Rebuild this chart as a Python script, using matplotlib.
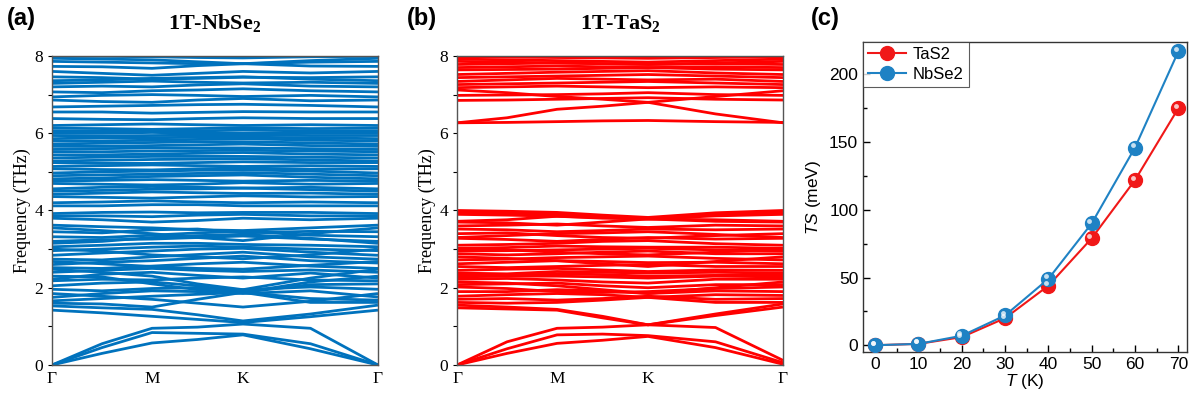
import matplotlib
matplotlib.use("Agg")
import matplotlib.pyplot as plt
from matplotlib.ticker import MultipleLocator
from matplotlib.transforms import offset_copy

plt.rcParams["mathtext.fontset"] = "custom"
plt.rcParams["mathtext.rm"] = "Liberation Sans"
plt.rcParams["mathtext.it"] = "Liberation Sans:italic"
plt.rcParams["mathtext.bf"] = "Liberation Serif:bold"

# high-symmetry path: G, G-M, M, M-K, K, K-G, G
kpath = [0, 50, 100, 145.5, 191, 258.5, 326]
ktick_pos = [0, 100, 191, 326]
ktick_lab = ["\u0393", "M", "K", "\u0393"]

# 1T-NbSe2 phonon bands (THz) at the k-points above
nbse2_bands = [
    [0.00, 0.55, 0.95, 0.98, 1.06, 0.95, 0.00],
    [0.00, 0.45, 0.84, 0.82, 0.80, 0.55, 0.00],
    [0.00, 0.30, 0.57, 0.66, 0.78, 0.42, 0.00],
    [1.42, 1.35, 1.26, 1.18, 1.10, 1.25, 1.42],
    [1.53, 1.48, 1.44, 1.30, 1.14, 1.32, 1.55],
    [1.60, 1.58, 1.50, 1.70, 1.88, 1.62, 1.62],
    [1.66, 1.72, 1.78, 1.83, 1.88, 1.72, 1.68],
    [1.75, 1.85, 1.92, 1.90, 1.85, 1.92, 1.76],
    [1.85, 1.78, 1.70, 1.60, 1.50, 1.65, 1.85],
    [1.96, 1.92, 1.98, 2.00, 1.95, 2.02, 1.96],
    [2.05, 2.12, 2.15, 2.05, 1.88, 2.08, 2.10],
    [2.18, 2.22, 2.20, 2.25, 2.28, 2.20, 2.18],
    [2.22, 2.35, 2.40, 2.32, 2.25, 2.38, 2.25],
    [2.30, 2.28, 2.10, 1.95, 1.88, 2.15, 2.30],
    [2.40, 2.45, 2.50, 2.45, 2.42, 2.46, 2.40],
    [2.48, 2.40, 2.30, 2.10, 1.95, 2.25, 2.48],
    [2.52, 2.50, 2.56, 2.62, 2.66, 2.56, 2.50],
    [2.60, 2.66, 2.70, 2.76, 2.82, 2.70, 2.64],
    [2.68, 2.62, 2.55, 2.50, 2.48, 2.58, 2.68],
    [2.74, 2.72, 2.80, 2.86, 2.92, 2.80, 2.74],
    [2.84, 2.90, 2.95, 3.00, 3.02, 2.92, 2.84],
    [3.00, 2.95, 2.85, 2.80, 2.75, 2.85, 3.00],
    [2.96, 3.00, 3.05, 3.08, 3.05, 3.00, 2.96],
    [3.06, 3.10, 3.15, 3.15, 3.12, 3.10, 3.06],
    [3.15, 3.20, 3.30, 3.35, 3.38, 3.28, 3.15],
    [3.20, 3.24, 3.26, 3.30, 3.34, 3.26, 3.20],
    [3.32, 3.30, 3.36, 3.42, 3.46, 3.36, 3.32],
    [3.45, 3.42, 3.50, 3.52, 3.42, 3.46, 3.45],
    [3.55, 3.48, 3.40, 3.30, 3.22, 3.40, 3.55],
    [3.62, 3.58, 3.55, 3.50, 3.48, 3.55, 3.62],
    [3.80, 3.76, 3.70, 3.74, 3.80, 3.76, 3.80],
    [3.86, 3.86, 3.84, 3.88, 3.90, 3.86, 3.86],
    [3.92, 3.95, 3.96, 3.94, 3.95, 3.95, 3.92],
    [4.12, 4.12, 4.15, 4.15, 4.12, 4.12, 4.12],
    [4.20, 4.22, 4.25, 4.22, 4.20, 4.22, 4.20],
    [4.36, 4.34, 4.32, 4.35, 4.38, 4.35, 4.36],
    [4.42, 4.45, 4.48, 4.46, 4.44, 4.45, 4.42],
    [4.50, 4.52, 4.55, 4.56, 4.58, 4.54, 4.50],
    [4.56, 4.60, 4.62, 4.60, 4.58, 4.60, 4.56],
    [4.70, 4.68, 4.66, 4.68, 4.72, 4.68, 4.70],
    [4.76, 4.78, 4.80, 4.78, 4.76, 4.78, 4.76],
    [4.82, 4.84, 4.88, 4.90, 4.92, 4.86, 4.82],
    [4.90, 4.92, 4.94, 4.96, 4.98, 4.94, 4.90],
    [4.97, 5.00, 5.02, 5.04, 5.05, 5.02, 4.97],
    [5.08, 5.06, 5.05, 5.08, 5.10, 5.07, 5.08],
    [5.14, 5.16, 5.18, 5.16, 5.14, 5.16, 5.14],
    [5.24, 5.22, 5.22, 5.24, 5.26, 5.24, 5.24],
    [5.28, 5.30, 5.32, 5.33, 5.34, 5.31, 5.28],
    [5.36, 5.38, 5.40, 5.40, 5.40, 5.38, 5.36],
    [5.44, 5.44, 5.46, 5.48, 5.50, 5.46, 5.44],
    [5.52, 5.52, 5.54, 5.55, 5.56, 5.54, 5.52],
    [5.58, 5.60, 5.62, 5.62, 5.62, 5.60, 5.58],
    [5.66, 5.66, 5.68, 5.70, 5.72, 5.68, 5.66],
    [5.72, 5.74, 5.76, 5.78, 5.78, 5.75, 5.72],
    [5.80, 5.80, 5.82, 5.84, 5.86, 5.82, 5.80],
    [5.86, 5.88, 5.88, 5.90, 5.90, 5.88, 5.86],
    [5.94, 5.93, 5.94, 5.95, 5.96, 5.94, 5.94],
    [6.00, 6.00, 6.02, 6.00, 6.00, 6.00, 6.00],
    [6.06, 6.05, 6.05, 6.06, 6.08, 6.06, 6.06],
    [6.13, 6.12, 6.10, 6.12, 6.14, 6.12, 6.13],
    [6.20, 6.22, 6.24, 6.22, 6.20, 6.22, 6.20],
    [6.38, 6.36, 6.35, 6.38, 6.40, 6.38, 6.38],
    [6.55, 6.55, 6.52, 6.54, 6.56, 6.55, 6.55],
    [6.68, 6.70, 6.72, 6.74, 6.75, 6.72, 6.68],
    [6.86, 6.82, 6.80, 6.86, 6.90, 6.84, 6.86],
    [6.94, 6.98, 7.00, 6.98, 6.95, 6.98, 6.94],
    [7.07, 7.05, 7.10, 7.12, 7.15, 7.10, 7.07],
    [7.20, 7.22, 7.20, 7.25, 7.28, 7.22, 7.20],
    [7.29, 7.32, 7.35, 7.32, 7.30, 7.32, 7.29],
    [7.36, 7.38, 7.42, 7.44, 7.46, 7.40, 7.36],
    [7.46, 7.44, 7.40, 7.42, 7.45, 7.44, 7.46],
    [7.60, 7.55, 7.50, 7.55, 7.60, 7.56, 7.60],
    [7.73, 7.72, 7.68, 7.75, 7.80, 7.74, 7.73],
    [7.86, 7.84, 7.82, 7.80, 7.80, 7.84, 7.86],
    [7.94, 7.92, 7.90, 7.85, 7.80, 7.88, 7.94],
    [7.99, 7.99, 7.98, 7.96, 7.95, 7.98, 7.99],
]

# 1T-TaS2 phonon bands (THz)
tas2_bands = [
    [0.00, 0.60, 0.95, 0.98, 1.04, 0.97, 0.12],
    [0.00, 0.42, 0.78, 0.80, 0.76, 0.60, 0.06],
    [0.00, 0.30, 0.56, 0.64, 0.74, 0.45, 0.02],
    [1.48, 1.45, 1.42, 1.22, 1.04, 1.28, 1.50],
    [1.55, 1.50, 1.44, 1.26, 1.04, 1.32, 1.58],
    [1.62, 1.60, 1.62, 1.68, 1.75, 1.62, 1.62],
    [1.70, 1.72, 1.68, 1.72, 1.78, 1.70, 1.72],
    [1.78, 1.82, 1.85, 1.82, 1.75, 1.82, 1.80],
    [1.90, 1.90, 1.95, 1.92, 1.85, 1.92, 1.90],
    [2.02, 1.98, 1.90, 1.88, 1.90, 1.98, 2.02],
    [2.08, 2.10, 2.12, 2.05, 2.00, 2.08, 2.08],
    [2.15, 2.12, 2.05, 1.95, 1.85, 2.00, 2.15],
    [2.22, 2.24, 2.20, 2.15, 2.12, 2.22, 2.22],
    [2.28, 2.30, 2.30, 2.28, 2.25, 2.30, 2.28],
    [2.34, 2.32, 2.36, 2.34, 2.30, 2.32, 2.34],
    [2.38, 2.36, 2.42, 2.40, 2.38, 2.40, 2.38],
    [2.45, 2.48, 2.50, 2.46, 2.42, 2.46, 2.45],
    [2.55, 2.52, 2.55, 2.58, 2.60, 2.55, 2.55],
    [2.62, 2.66, 2.70, 2.68, 2.65, 2.66, 2.62],
    [2.72, 2.74, 2.78, 2.80, 2.82, 2.76, 2.72],
    [2.80, 2.76, 2.70, 2.62, 2.55, 2.68, 2.80],
    [2.88, 2.85, 2.88, 2.92, 2.95, 2.88, 2.88],
    [2.95, 2.96, 2.98, 3.00, 3.02, 2.98, 2.95],
    [3.00, 2.98, 2.92, 2.88, 2.85, 2.92, 3.00],
    [3.02, 3.04, 3.08, 3.06, 3.05, 3.05, 3.02],
    [3.10, 3.12, 3.15, 3.20, 3.22, 3.14, 3.10],
    [3.28, 3.25, 3.20, 3.25, 3.30, 3.26, 3.28],
    [3.30, 3.35, 3.40, 3.42, 3.45, 3.38, 3.30],
    [3.40, 3.42, 3.35, 3.30, 3.28, 3.35, 3.40],
    [3.52, 3.50, 3.45, 3.48, 3.52, 3.50, 3.52],
    [3.60, 3.62, 3.65, 3.60, 3.56, 3.62, 3.60],
    [3.70, 3.68, 3.62, 3.70, 3.78, 3.72, 3.70],
    [3.72, 3.76, 3.85, 3.82, 3.78, 3.76, 3.72],
    [3.90, 3.88, 3.85, 3.80, 3.78, 3.86, 3.90],
    [3.95, 3.93, 3.90, 3.85, 3.80, 3.90, 3.95],
    [4.00, 3.98, 3.95, 3.88, 3.82, 3.94, 4.00],
    [6.27, 6.28, 6.30, 6.32, 6.33, 6.30, 6.28],
    [6.27, 6.40, 6.62, 6.70, 6.80, 6.50, 6.27],
    [6.85, 6.86, 6.88, 6.90, 6.92, 6.88, 6.86],
    [6.98, 6.99, 7.00, 7.02, 7.05, 7.00, 6.98],
    [7.12, 7.05, 6.95, 6.88, 6.80, 6.95, 7.10],
    [7.18, 7.20, 7.22, 7.20, 7.18, 7.20, 7.18],
    [7.26, 7.28, 7.30, 7.32, 7.34, 7.30, 7.26],
    [7.34, 7.38, 7.42, 7.40, 7.38, 7.40, 7.34],
    [7.44, 7.46, 7.48, 7.50, 7.52, 7.48, 7.44],
    [7.52, 7.55, 7.58, 7.60, 7.62, 7.56, 7.52],
    [7.64, 7.65, 7.66, 7.68, 7.70, 7.66, 7.64],
    [7.70, 7.72, 7.74, 7.72, 7.70, 7.72, 7.70],
    [7.78, 7.80, 7.82, 7.80, 7.78, 7.80, 7.78],
    [7.86, 7.84, 7.82, 7.80, 7.78, 7.82, 7.86],
    [7.92, 7.90, 7.88, 7.86, 7.84, 7.88, 7.92],
    [7.98, 7.97, 7.96, 7.95, 7.94, 7.96, 7.98],
]

# TS vs T
temps = [0, 10, 20, 30, 40, 50, 60, 70]
ts_tas2 = [0, 1, 6, 20, 44, 79, 122, 175]
ts_nbse2 = [0, 1, 7, 22, 49, 90, 146, 217]

blue_band = "#0072BD"
red_band = "#FF0000"
red = "#F01818"
blue = "#1F82C4"

fig = plt.figure(figsize=(11.98, 4.01), dpi=100)

ax_a = fig.add_axes([0.0434, 0.0898, 0.2721, 0.7706])
ax_b = fig.add_axes([0.3815, 0.0898, 0.2721, 0.7706])
ax_c = fig.add_axes([0.7204, 0.1222, 0.2704, 0.7731])


def band_panel(ax, bands, color, title):
    for b in bands:
        ax.plot(kpath, b, color=color, lw=2.0, solid_capstyle="butt")
    ax.set_xlim(kpath[0], kpath[-1])
    ax.set_ylim(0, 8)
    ax.set_xticks(ktick_pos)
    ax.set_xticklabels(ktick_lab, family="Liberation Serif", fontsize=12.5)
    ax.tick_params(axis="x", length=0, pad=4)
    ax.set_yticks([0, 2, 4, 6, 8])
    ax.yaxis.set_minor_locator(MultipleLocator(1))
    ax.tick_params(axis="y", which="both", direction="out", length=3,
                   labelsize=12.5, width=0.8)
    for lab in ax.get_yticklabels():
        lab.set_family("Liberation Serif")
    ax.set_ylabel("Frequency (THz)", family="Liberation Serif", fontsize=13,
                  labelpad=2)
    for s in ax.spines.values():
        s.set_color("#555555")
        s.set_linewidth(1.0)
    ax.set_title(title, family="Liberation Serif", fontweight="bold",
                 fontsize=16, pad=19)


band_panel(ax_a, nbse2_bands, blue_band, "1T-NbSe$_\\mathbf{2}$")
band_panel(ax_b, tas2_bands, red_band, "1T-TaS$_\\mathbf{2}$")


def ball_line(ax, x, y, color, label):
    ax.plot(x, y, color=color, lw=1.5, marker="o", ms=10, mfc=color,
            mec=color, label=label, zorder=3)
    hl = offset_copy(ax.transData, fig=fig, x=-1.8, y=1.8, units="points")
    ax.plot(x, y, ls="none", marker="o", ms=3.5, mfc="white", mec="none",
            alpha=0.75, transform=hl, zorder=4)


ball_line(ax_c, temps, ts_tas2, red, "TaS2")
ball_line(ax_c, temps, ts_nbse2, blue, "NbSe2")
ax_c.set_xlim(-2.8, 72)
ax_c.set_ylim(-5, 224)
ax_c.set_xticks(temps)
ax_c.set_yticks([0, 50, 100, 150, 200])
ax_c.xaxis.set_minor_locator(MultipleLocator(5))
ax_c.yaxis.set_minor_locator(MultipleLocator(25))
ax_c.tick_params(which="major", direction="in", length=5, width=1,
                 labelsize=12.5)
ax_c.tick_params(which="minor", direction="in", length=3, width=1)
for lab in ax_c.get_xticklabels() + ax_c.get_yticklabels():
    lab.set_family("Liberation Sans")
ax_c.set_xlabel("$\\mathit{T}$ (K)", family="Liberation Sans", fontsize=12.5,
                labelpad=0)
ax_c.set_ylabel("$\\mathit{TS}$ (meV)", family="Liberation Sans", fontsize=12.5,
                labelpad=4)
for s in ax_c.spines.values():
    s.set_color("#333333")
    s.set_linewidth(1.0)
leg = ax_c.legend(loc="upper left", borderaxespad=0, frameon=True, fancybox=False,
                  edgecolor="#333333", handlelength=2.3,
                  handletextpad=0.4, borderpad=0.3, labelspacing=0.3,
                  prop={"family": "Liberation Sans", "size": 12})
leg.get_frame().set_linewidth(0.8)

for x, lab in [(0.006, "(a)"), (0.340, "(b)"), (0.677, "(c)")]:
    fig.text(x, 0.955, lab, family="Liberation Sans", fontweight="bold",
             fontsize=17, va="center", ha="left")

fig.savefig("out.png", dpi=100)
